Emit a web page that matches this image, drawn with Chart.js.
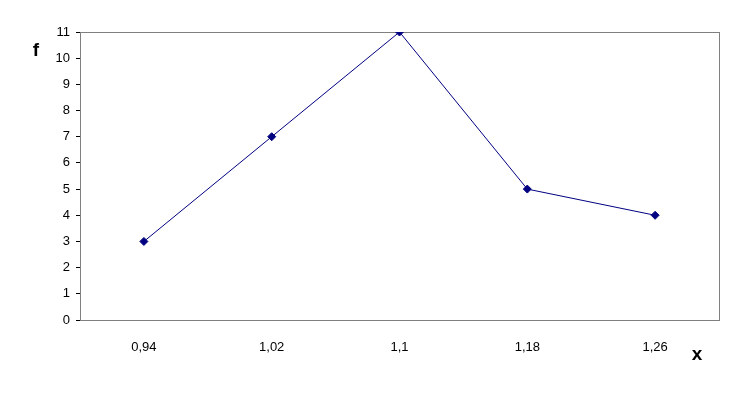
<!DOCTYPE html>
<html>
<head>
<meta charset="utf-8">
<script src="https://cdn.jsdelivr.net/npm/chart.js@4/dist/chart.umd.min.js"></script>
<style>
html,body{margin:0;padding:0;background:#fff;}
#wrap{width:738px;height:407px;}
</style>
</head>
<body>
<div id="wrap"><canvas id="c" width="738" height="407"></canvas></div>
<script>
const categories = ["0,94", "1,02", "1,1", "1,18", "1,26"];
const frequencies = [3, 7, 11, 5, 4];
const yAxisTitle = "f";
const xAxisTitle = "x";

const frame = {
  id: 'frame',
  beforeDatasetsDraw(chart) {
    const {ctx, chartArea: a} = chart;
    ctx.save();
    ctx.strokeStyle = '#808080';
    ctx.lineWidth = 1;
    ctx.strokeRect(a.left + 0.5, a.top + 0.5, a.right - a.left, a.bottom - a.top);
    ctx.restore();
  },
  afterDraw(chart) {
    const {ctx} = chart;
    ctx.save();
    ctx.fillStyle = '#000';
    ctx.font = 'bold 19px "Liberation Sans", Arial, sans-serif';
    ctx.textAlign = 'center';
    ctx.textBaseline = 'middle';
    ctx.fillText(yAxisTitle, 36, 51);
    ctx.fillText(xAxisTitle, 697, 355);
    ctx.restore();
  }
};

new Chart(document.getElementById('c'), {
  type: 'line',
  data: {
    labels: categories,
    datasets: [{
      data: frequencies,
      borderColor: '#000080',
      backgroundColor: '#000080',
      borderWidth: 1,
      pointStyle: 'rectRot',
      pointRadius: 4,
      pointHoverRadius: 4,
      tension: 0,
      fill: false
    }]
  },
  options: {
    responsive: false,
    animation: false,
    events: [],
    layout: {padding: {top: 32, right: 19, bottom: 0, left: 0}},
    plugins: {legend: {display: false}, tooltip: {enabled: false}},
    scales: {
      x: {
        type: 'category',
        offset: true,
        grid: {display: false},
        border: {display: true, color: '#000', width: 1},
        ticks: {color: '#000', padding: 12, maxRotation: 0, font: {family: '"Liberation Sans", Arial, sans-serif', size: 13}},
        afterFit(s) { s.height = 87; }
      },
      y: {
        min: 0, max: 11,
        grid: {display: true, drawOnChartArea: false, drawTicks: true, tickLength: 4, color: '#000'},
        border: {display: true, color: '#000', width: 1},
        ticks: {stepSize: 1, color: '#000', padding: 6, font: {family: '"Liberation Sans", Arial, sans-serif', size: 13}},
        afterFit(s) { s.width = 80; }
      }
    }
  },
  plugins: [frame]
});
</script>
</body>
</html>
